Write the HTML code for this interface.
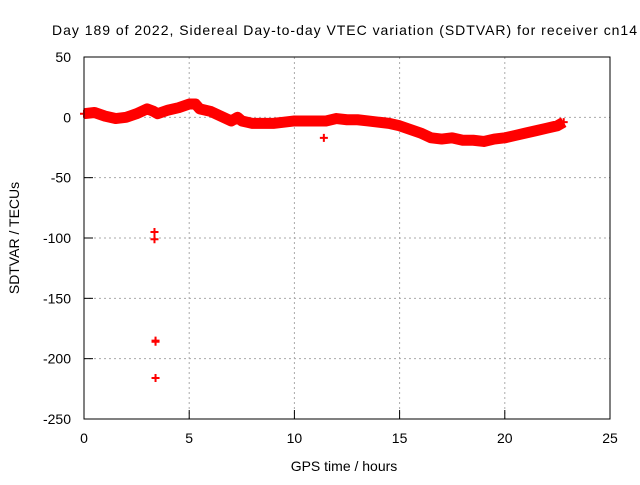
<!DOCTYPE html>
<html><head><meta charset="utf-8"><style>
body{margin:0;background:#fff}
svg text{font-family:"Liberation Sans",sans-serif;font-size:14px;fill:#000}
</style></head><body>
<svg id="c" width="640" height="480">
<text x="52" y="35" textLength="585" lengthAdjust="spacing">Day 189 of 2022, Sidereal Day-to-day VTEC variation (SDTVAR) for receiver cn14</text>
<g id="grid"></g>
<g id="ax"></g>
<g id="series"></g>
<rect x="84" y="57" width="526" height="362" fill="none" stroke="#000"/>
<text x="344" y="471" text-anchor="middle">GPS time / hours</text>
<text transform="translate(19,238) rotate(-90)" text-anchor="middle">SDTVAR / TECUs</text>
</svg>
<script>
const xTicks=[0,5,10,15,20,25];
const yTicks=[50,0,-50,-100,-150,-200,-250];
const times=[0,0.5,1,1.5,2,2.5,3,3.3,3.5,4,4.5,5,5.3,5.5,6,6.5,7,7.3,7.5,8,8.5,9,9.5,10,10.5,11,11.5,12,12.5,13,13.5,14,14.5,15,15.5,16,16.5,17,17.5,18,18.5,19,19.5,20,20.5,21,21.5,22,22.5,22.8];
const values=[3,4,1,-1,0,3,7,5,3,6,8,11,11,7,5,1,-3,0,-3,-5,-5,-5,-4,-3,-3,-3,-3,-1,-2,-2,-3,-4,-5,-7,-10,-13,-17,-18,-17,-19,-19,-20,-18,-17,-15,-13,-11,-9,-7,-4];
const outT=[3.35,3.35,3.4,3.4,3.4,11.4];
const outV=[-95,-101,-185,-186,-216,-17];
const X=t=>84+t*526/25;
const Y=v=>57+(50-v)*362/300;
const NS="http://www.w3.org/2000/svg";
function mk(tag,attrs,parent){const e=document.createElementNS(NS,tag);for(const k in attrs)e.setAttribute(k,attrs[k]);document.getElementById(parent).appendChild(e);return e;}
xTicks.forEach(t=>{
 if(t>0&&t<25){const g=mk('line',{x1:X(t),x2:X(t),y1:57,y2:419,stroke:'#aaa','stroke-dasharray':'2,3'},'grid');
 
 }
 const tk=mk('line',{x1:X(t),x2:X(t),y1:419,y2:410,stroke:'#000'},'ax');
 
 
 const l=mk('text',{x:X(t),y:443,'text-anchor':'middle'},'ax');l.textContent=t;
 
 
});
yTicks.forEach(v=>{
 if(v<50&&v>-250){const g=mk('line',{x1:84,x2:610,y1:Y(v),y2:Y(v),stroke:'#aaa','stroke-dasharray':'2,3'},'grid');
 
 }
 const tk=mk('line',{x1:84,x2:93,y1:Y(v),y2:Y(v),stroke:'#000'},'ax');
 
 
 const l=mk('text',{x:71,y:Y(v)+5,'text-anchor':'end'},'ax');l.textContent=v;
 
 
});
const pl=mk('polyline',{points:times.map((t,i)=>X(t)+','+Y(values[i])).join(' '),fill:'none',stroke:'#f00','stroke-width':11,'stroke-linejoin':'round'},'series');


function plus(t,v){const p=mk('path',{d:`M${X(t)-4},${Y(v)}h8M${X(t)},${Y(v)-4}v8`,stroke:'#f00','stroke-width':2},'series');
 
 }
times.forEach((t,i)=>plus(t,values[i]));
outT.forEach((t,i)=>plus(t,outV[i]));
</script>
</body></html>
